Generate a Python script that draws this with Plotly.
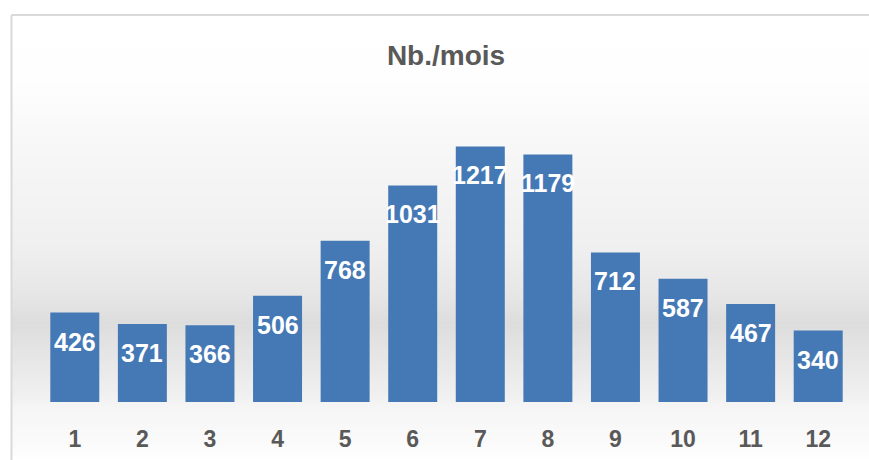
import plotly.graph_objects as go

months = ["1", "2", "3", "4", "5", "6", "7", "8", "9", "10", "11", "12"]
counts = [426, 371, 366, 506, 768, 1031, 1217, 1179, 712, 587, 467, 340]
title_text = "Nb./mois"

W, H = 869, 460
L, R, T, B = 41, 17, 108, 58
plot_h = H - T - B
plot_w = W - L - R

def py2paper(py):
    return (H - B - py) / plot_h

def px2paper(px):
    return (px - L) / plot_w

# background gradient profile (pixel y, gray level)
profile = [(15, 255), (80, 254), (150, 247), (250, 239), (300, 229), (323, 221),
           (350, 228), (380, 236), (402, 242), (404, 245), (440, 250), (460, 254)]

def gray_at(y):
    for (y0, g0), (y1, g1) in zip(profile, profile[1:]):
        if y0 <= y <= y1:
            t = (y - y0) / (y1 - y0) if y1 > y0 else 0
            return g0 + (g1 - g0) * t
    return 255

shapes = []
step = 3
y = 15
while y < H:
    g = int(round(gray_at(y + step / 2)))
    shapes.append(dict(type="rect", xref="paper", yref="paper",
                       x0=px2paper(12), x1=px2paper(W + 5),
                       y0=py2paper(y + step), y1=py2paper(y),
                       fillcolor=f"rgb({g},{g},{g})", line=dict(width=0),
                       layer="below"))
    y += step

# chart border (left and top)
shapes.append(dict(type="line", xref="paper", yref="paper",
                   x0=px2paper(11.5), x1=px2paper(11.5),
                   y0=py2paper(15), y1=py2paper(H + 5),
                   line=dict(color="#d9d9d9", width=2), layer="below"))
shapes.append(dict(type="line", xref="paper", yref="paper",
                   x0=px2paper(11.5), x1=px2paper(W + 5),
                   y0=py2paper(15), y1=py2paper(15),
                   line=dict(color="#d9d9d9", width=2), layer="below"))

fig = go.Figure()
fig.add_trace(go.Bar(
    x=months, y=counts,
    marker=dict(color="#4579b6", line=dict(width=0)),
    width=0.725,
    hoverinfo="x+y",
))

annotations = []
for i, c in enumerate(counts):
    annotations.append(dict(
        x=i, y=c, xref="x", yref="y", text=str(c), showarrow=False,
        yanchor="middle", yshift=-29,
        font=dict(family="Liberation Sans, Arial", size=25,
                  color="white", weight="bold"),
    ))

fig.update_layout(
    width=W, height=H,
    margin=dict(l=L, r=R, t=T, b=B, pad=0),
    paper_bgcolor="white",
    plot_bgcolor="rgba(0,0,0,0)",
    showlegend=False,
    shapes=shapes,
    annotations=annotations,
    title=dict(text="<b>" + title_text + "</b>", x=446 / W, xanchor="center",
               y=1 - 55 / H, yanchor="middle", yref="container",
               font=dict(family="Liberation Sans, Arial", size=28, color="#595959")),
    xaxis=dict(showgrid=False, showline=False, zeroline=False, ticks="",
               range=[-0.5, len(months) - 0.5], automargin=False,
               tickfont=dict(family="Liberation Sans, Arial",
                             size=23, color="#595959", weight="bold"),
               ticklabelstandoff=21),
    yaxis=dict(range=[0, 1400], visible=False, showgrid=False, zeroline=False),
    bargap=0.275,
)

fig.write_html("out.html", config={"displayModeBar": False},
               post_script="document.body.style.margin='0';document.body.style.overflow='hidden';")
